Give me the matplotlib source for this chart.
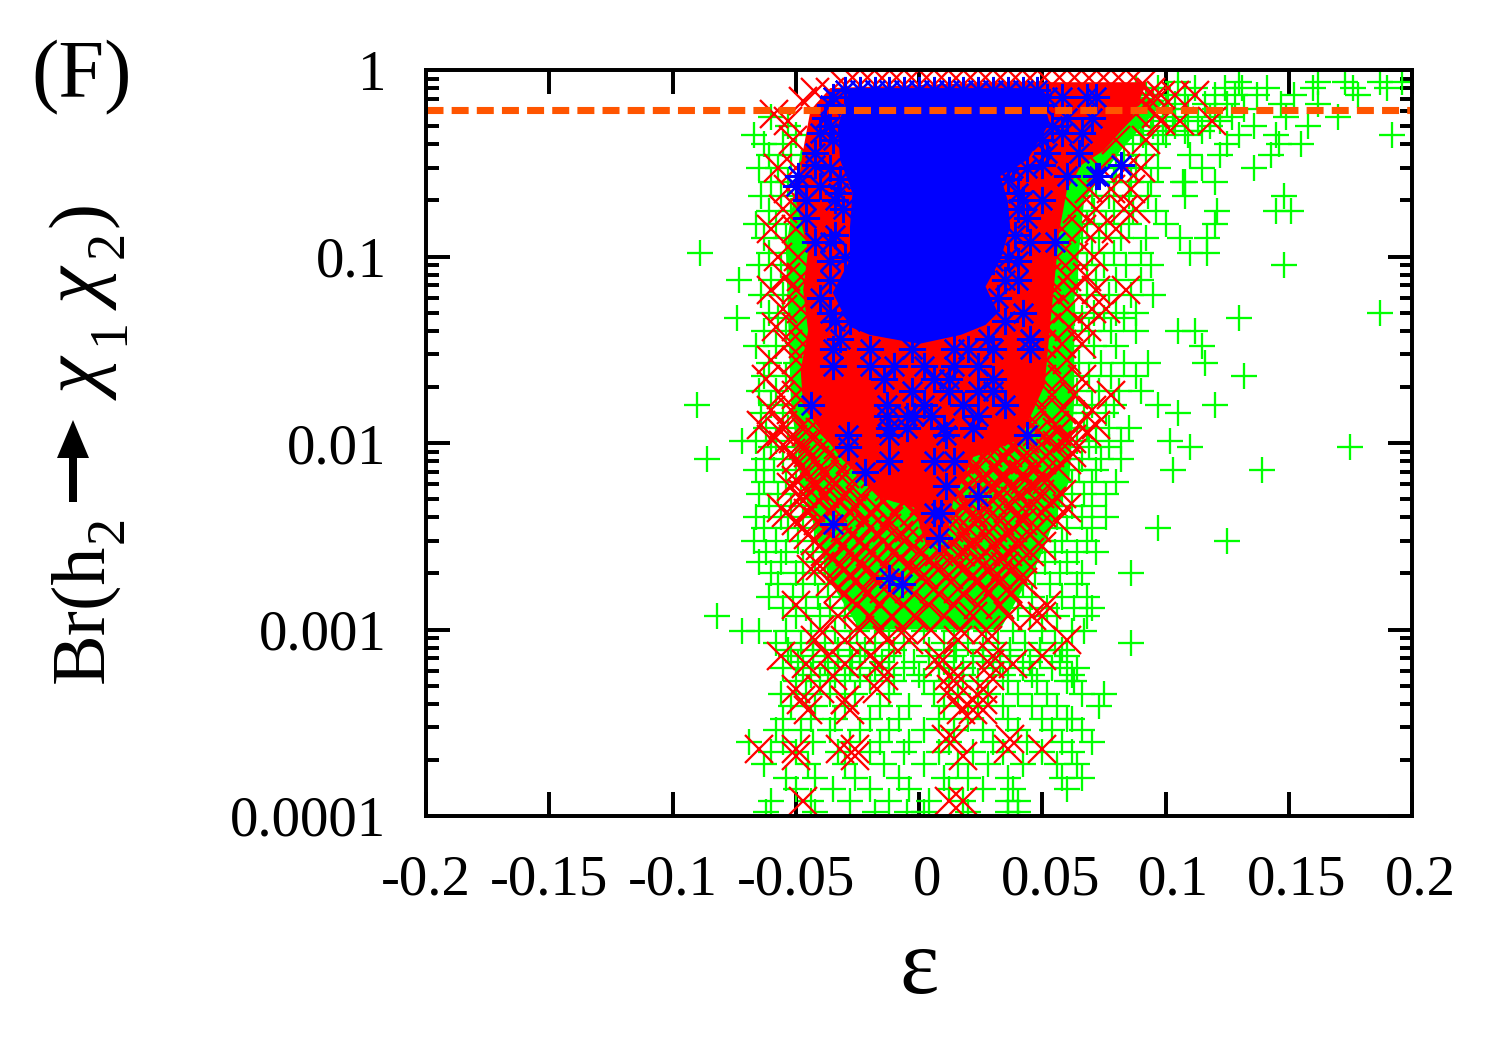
import numpy as np
import matplotlib
matplotlib.use('Agg')
import matplotlib.pyplot as plt
from matplotlib.patches import FancyArrow
from matplotlib.transforms import ScaledTranslation

plt.rcParams['font.family'] = ['Liberation Serif', 'DejaVu Serif']

x_ticks = [-0.2, -0.15, -0.1, -0.05, 0, 0.05, 0.1, 0.15, 0.2]
x_labels = ['-0.2', '-0.15', '-0.1', '-0.05', '0', '0.05', '0.1', '0.15', '0.2']
y_ticks = [1, 0.1, 0.01, 0.001, 0.0001]
y_labels = ['1', '0.1', '0.01', '0.001', '0.0001']
br_limit = 0.61

# The centre of the cloud is overplotted so heavily that single markers can't be
# read, so those parts are an outline; points are listed
# where they can be told apart.
green_core_eps = [-.048, -.054, -.052, -.048, -.036, -.024, .033, .049, .061, .063, .063, .067, .082, .1, .073]
green_core_br = [.372, .108, .0171, .0063, .0018, .001, .001, .0024, .0063, .0171, .058, .201, .372, .69, .78]
red_core_eps = [.092, .086, .075, .066, .06, .057, .055, .053, .051, .041, .022, .014, .011, .003,
                -.002, -.016, -.032, -.047, -.048, -.045, -.047, -.045, -.05, -.047, -.044, -.036, .033, .092]
red_core_br = [.83, .54, .37, .31, .227, .139, .075, .04, .0205, .0104, .0084, .005, .003, .0028,
               .0045, .0051, .0084, .0156, .0247, .04, .066, .108, .201, .372, .61, .8, .86, .86]
blue_core_eps = [-.028, .049, .053, .044, .033, .036, .037, .033, .027, .032, .027, .017, 0, -.02,
                 -.028, -.035, -.028, -.028, -.027, -.032, -.033, -.029]
blue_core_br = [.8, .8, .52, .33, .27, .2, .144, .096, .069, .05, .043, .038, .034, .038,
                .042, .064, .096, .144, .219, .329, .495, .734]

# green + markers, one row per Br level
green_rows = [
    (.86, [.105, .13, .162, .173, .187, .196]),
    (.80, [.088, .097, .112, .124, .131, .141, .16, .176, .19]),
    (.73, [.083, .092, .101, .108, .12, .128, .137, .152, .178]),
    (.66, [.086, .095, .104, .116, .125, .147, .162]),
    (.62, [.1, .109, .12, .132]),
    (.56, [-.06, .082, .09, .099, .108, .118, .127, .149, .17]),
    (.53, [.094, .103, .113, .122]),
    (.50, [-.053, .078, .086, .095, .104, .118, .136, .158]),
    (.47, [.09, .099, .108, .115]),
    (.45, [-.067, -.05, .074, .082, .091, .1, .109, .13, .145, .192]),
    (.40, [-.063, -.055, .07, .079, .087, .097, .125, .146, .155]),
    (.35, [-.061, -.052, .066, .074, .083, .092, .11, .122, .143]),
    (.30, [-.065, -.057, .063, .071, .08, .088, .097, .115, .136]),
    (.25, [-.06, -.053, .072, .079, .086, .094, .107, .12, .108]),
    (.21, [-.064, -.056, .07, .077, .085, .093, .108, .148]),
    (.175, [-.061, -.052, .064, .071, .079, .087, .096, .121, .145, .151]),
    (.15, [-.066, -.058, .06, .068, .076, .085, .1, .12]),
    (.125, [-.063, -.054, .058, .066, .073, .082, .092, .106, .117]),
    (.105, [-.089, -.061, -.052, .055, .063, .07, .079, .09, .11, .117]),
    (.09, [-.065, -.056, .06, .068, .075, .084, .094, .148]),
    (.075, [-.073, -.06, -.05, .056, .064, .072, .08, .09]),
    (.062, [-.064, -.055, .052, .06, .068, .077, .086, .095]),
    (.05, [-.061, -.052, .054, .063, .071, .08, .088, .187]),
    (.047, [-.074, -.057, .058, .066, .075, .083, .13]),
    (.04, [-.063, -.054, .052, .06, .069, .078, .088, .105, .112]),
    (.033, [-.066, -.058, .054, .062, .071, .08, .115]),
    (.027, [-.061, -.05, .057, .065, .074, .083, .093, .116]),
    (.023, [-.063, -.054, .052, .06, .069, .078, .088, .132]),
    (.019, [-.065, -.058, .056, .064, .073, .081, .09]),
    (.016, [-.09, -.06, -.051, .053, .061, .07, .079, .097, .12]),
    (.0145, [-.064, -.055, .059, .067, .076, .105]),
    (.012, [-.062, -.053, .052, .06, .068, .077, .085]),
    (.0102, [-.072, -.066, -.058, .056, .064, .072, .082, .102]),
    (.0095, [-.06, -.05, .052, .06, .069, .077, .11, .175]),
    (.0082, [-.086, -.063, -.055, -.04, .058, .066, .074, .082]),
    (.0072, [-.066, -.059, -.05, -.036, .05, .057, .065, .072, .103, .139]),
    (.0062, [-.063, -.054, -.044, .046, .053, .062, .07, .08]),
    (.0053, [-.065, -.057, -.048, -.038, -.028, .04, .05, .058, .067, .076]),
    (.0046, [-.061, -.052, -.042, -.034, .034, .044, .053, .062, .07]),
    (.004, [-.066, -.056, -.047, -.037, .028, .038, .047, .056, .066, .076]),
    (.0035, [-.063, -.053, -.042, -.03, .024, .034, .044, .052, .06, .07, .097]),
    (.003, [-.067, -.058, -.049, -.037, .03, .04, .05, .058, .068, .125]),
    (.0026, [-.062, -.054, -.043, -.034, .018, .028, .037, .046, .055, .064, .072]),
    (.0023, [-.065, -.056, -.047, -.038, -.028, .022, .032, .042, .051, .06]),
    (.002, [-.06, -.05, -.042, -.032, -.02, .014, .025, .036, .047, .057, .066, .086]),
    (.00175, [-.057, -.047, -.037, -.028, .02, .031, .042, .053, .064]),
    (.0015, [-.061, -.051, -.041, -.03, -.022, -.012, .012, .024, .035, .046, .058, .068]),
    (.0013, [-.055, -.046, -.036, -.026, -.014, .005, .016, .028, .04, .052, .063, .07]),
    (.00118, [-.082, -.05, -.04, -.03, -.02, -.005, .008, .022, .033, .045, .056, .068]),
    (.00098, [-.072, -.065, -.054, -.044, -.034, -.025, -.012, .002, .014, .027, .038, .05, .062, .067]),
    (.00085, [-.058, -.048, -.038, -.028, -.018, -.006, .01, .02, .032, .043, .055, .086]),
    (.00078, [-.053, -.043, -.033, -.022, -.01, .004, .015, .026, .037, .049, .058]),
    (.00072, [-.052, -.043, -.033, -.024, -.012, .004, .014, .026, .037, .049, .06]),
    (.00067, [-.049, -.038, -.027, -.015, -.002, .01, .022, .033, .045, .057]),
    (.00062, [-.055, -.047, -.037, -.028, -.018, -.006, .008, .018, .03, .042, .054, .064]),
    (.00057, [-.044, -.034, -.024, -.012, 0, .018, .034, .046, .062]),
    (.00053, [-.05, -.04, -.03, -.02, -.01, .002, .012, .024, .036, .048, .06, .063]),
    (.00045, [-.056, -.046, -.036, -.026, -.012, .006, .016, .028, .04, .052, .066, .075]),
    (.00039, [-.052, -.042, -.03, -.016, -.004, .01, .024, .034, .046, .056, .073]),
    (.00033, [-.055, -.044, -.034, -.02, -.008, .008, .02, .036, .05, .062, .06]),
    (.00029, [-.058, -.048, -.036, -.024, -.012, .002, .014, .026, .04, .054, .066]),
    (.00025, [-.069, -.055, -.043, -.028, -.016, -.004, .012, .03, .044, .058, .07]),
    (.00022, [-.06, -.05, -.033, -.02, -.006, .008, .022, .034, .05, .062]),
    (.00019, [-.063, -.045, -.03, -.014, .002, .016, .028, .042, .056, .064]),
    (.00016, [-.054, -.042, -.026, -.008, .01, .02, .036, .058, .066]),
    (.00014, [-.05, -.035, -.02, -.004, .012, .026, .038, .06]),
    (.00012, [-.06, -.044, -.028, -.012, .004, .018, .036, .04]),
    (.000105, [-.062, -.042, -.018, -.005, .002, .02, .036, .04]),
]

# red x markers around the solid part
red_rows = [
    (.83, [-.03, -.024, -.018, -.012, -.006, 0, .006, .012, .018, .024, .03, .036, .042, .048, .054, .06,
           .066, .072, .078, .084, .09]),
    (.76, [-.042, -.036, .094]),
    (.734, [.104, .112, .098]),
    (.68, [-.047, .094, .09]),
    (.58, [-.059, .088, .096]),
    (.53, [-.053, .106, .119, .098]),
    (.42, [-.051, .08, .092]),
    (.3, [-.057, -.05, .074, .084, .09]),
    (.23, [-.053, .069, .078, .086]),
    (.18, [-.055, -.049, .064, .072, .083, .088]),
    (.14, [-.06, -.05, .058, .066, .073, .08]),
    (.1, [-.057, -.049, .056, .063, .071]),
    (.078, [-.054, -.048, .052, .06, .068]),
    (.066, [-.06, -.05, .055, .062, .072, .084]),
    (.052, [-.055, -.048, .053, .06, .07, .076]),
    (.042, [-.058, -.05, .052, .061, .068]),
    (.034, [-.053, -.047, .05, .058, .066]),
    (.028, [-.06, -.05, .052, .06]),
    (.022, [-.062, -.052, .05, .058, .066]),
    (.018, [-.056, -.05, .046, .054, .063, .078]),
    (.015, [-.06, -.052, .042, .05, .058, .07]),
    (.0125, [-.064, -.055, -.047, .038, .046, .055, .065, .072]),
    (.0115, [-.056, -.046, -.04, .04, .048, .056, .068]),
    (.0105, [-.06, -.051, -.043, .035, .043, .052, .06, .062]),
    (.0097, [-.055, -.047, -.039, -.033, .03, .038, .047, .056]),
    (.0088, [-.052, -.045, .028, .036, .044, .053, .062]),
    (.0081, [-.05, -.042, -.034, -.028, .02, .027, .034, .043, .05, .06]),
    (.0074, [-.048, -.04, .022, .03, .038, .047, .056]),
    (.0068, [-.046, -.038, -.03, -.024, -.018, .014, .02, .027, .034, .042, .05]),
    (.0063, [-.05, -.043, -.035, .018, .026, .034, .043, .052, .05]),
    (.0058, [-.052, -.042, -.035, -.027, -.02, -.012, -.005, .012, .02, .03, .038, .046]),
    (.0053, [-.047, -.038, -.03, .016, .024, .032, .04, .049, .058]),
    (.0049, [-.047, -.04, -.032, -.024, -.014, -.006, .002, .01, .02, .03, .039, .048, .054]),
    (.0045, [-.056, -.044, -.035, -.026, -.017, .018, .026, .036, .045, .06]),
    (.0042, [-.054, -.045, -.036, -.028, -.02, -.01, -.002, .006, .014, .022, .03, .04, .05]),
    (.0038, [-.05, -.041, -.032, -.022, -.012, .015, .024, .033, .042, .056]),
    (.0035, [-.047, -.038, -.03, -.02, -.013, -.004, .004, .012, .02, .03, .038, .048]),
    (.0032, [-.045, -.036, -.027, -.017, -.008, .018, .027, .036, .045]),
    (.003, [-.042, -.033, -.024, -.014, -.006, .006, .014, .022, .032, .04]),
    (.0028, [-.04, -.031, -.022, -.012, -.002, .012, .021, .03, .04, .05]),
    (.0026, [-.038, -.028, -.02, -.01, 0, .008, .017, .027, .036, .045]),
    (.0024, [-.035, -.026, -.017, -.008, .004, .014, .024, .034, .042]),
    (.0022, [-.04, -.032, -.023, -.014, -.004, .006, .016, .026, .035]),
    (.0021, [-.044, -.03, -.021, -.012, -.002, .008, .018, .028, .038]),
    (.00195, [-.028, -.018, -.008, .002, .012, .022, .032, .042]),
    (.0018, [-.036, -.026, -.017, -.007, .003, .013, .024, .032, .042]),
    (.00165, [-.033, -.022, -.014, -.004, .006, .016, .027, .036]),
    (.00155, [-.03, -.021, -.012, -.002, .008, .018, .028, .037]),
    (.00135, [-.05, -.025, -.016, -.006, .004, .014, .024, .033, .052]),
    (.00118, [-.033, -.02, -.011, -.002, .01, .022, .036, .05, .046]),
    (.001, [-.04, -.024, -.016, -.006, .005, .017, .027]),
    (.00088, [-.042, -.03, -.013, -.004, .016, .028, .06]),
    (.00072, [-.056, -.037, -.02, .008, .03, .05]),
    (.00065, [-.046, -.03, -.016, .008, .029, .038]),
    (.00056, [-.035, -.014, .012, .016, .029]),
    (.00048, [-.05, -.04, -.017, .013, .026]),
    (.00042, [-.048, -.03, -.03, .014, .022, .026]),
    (.00037, [-.045, -.028, .017, .022, .026]),
    (.00026, [.011, .014, .037]),
    (.00023, [-.065, -.05, -.032, -.026, .05, .036]),
    (.00021, [-.05, -.026, .018]),
    (.00012, [-.047, .012, .018]),
]

blue_rows = [
    (.78, [-.03, -.024, -.018, -.012, -.006, 0, .006, .012, .018, .024, .03, .036, .042, .048]),
    (.72, [-.035, .052, .058, .068, .072]),
    (.65, [-.036, .05]),
    (.55, [-.038, .06, .07]),
    (.5, [-.036, .054]),
    (.46, [-.04, -.03, .058, .066]),
    (.42, [-.035, .05]),
    (.36, [-.042, .052, .065]),
    (.31, [-.042, .05, .082]),
    (.3, [-.036, .038, .044]),
    (.27, [-.049, .06, .072, .073]),
    (.26, [-.032, .036]),
    (.24, [-.05, -.04]),
    (.22, [-.033, .04, .03]),
    (.2, [-.046, -.034, .042, .05]),
    (.18, [-.031, .04]),
    (.16, [-.046, .044]),
    (.13, [-.034, .039]),
    (.12, [-.042, -.036, .055, .045]),
    (.1, [-.03, .036]),
    (.095, [-.036, .04, .03]),
    (.075, [-.036, .035, .04]),
    (.06, [-.04, .032]),
    (.05, [-.036, .042]),
    (.045, [-.034, .035, -.028]),
    (.036, [-.032, .028, .045, .045]),
    (.032, [-.035, -.02, -.003, .014, .02, .03, .045]),
    (.026, [-.035, -.02, -.01, .002, .014, .024]),
    (.022, [-.014, .006, .012, .03]),
    (.019, [-.003, .012, .03, .024]),
    (.016, [-.044, -.013, .002, .018, .035]),
    (.014, [-.013, -.005, -.002, .005, .024]),
    (.012, [-.012, -.005, .01, .022]),
    (.011, [-.029, -.012, .011, .044]),
    (.0095, [-.029]),
    (.008, [-.012, .006, .014]),
    (.007, [-.022]),
    (.0059, [.011]),
    (.0052, [.024]),
    (.0042, [.006, .009]),
    (.0037, [-.035]),
    (.0031, [.008]),
    (.0019, [-.012]),
    (.00175, [-.007]),
]


def flatten(rows):
    eps = [e for br, row in rows for e in row]
    brs = [br for br, row in rows for e in row]
    return eps, brs


green_eps, green_br = flatten(green_rows)
red_eps, red_br = flatten(red_rows)
blue_eps, blue_br = flatten(blue_rows)

fig = plt.figure(figsize=(10, 7), dpi=150)
ax = fig.add_axes([426 / 1500, 1 - 816 / 1050, 986 / 1500, 746 / 1050])
ax.set_yscale('log')

ax.fill(green_core_eps, green_core_br, color='#00ff00', lw=0, zorder=1.9)
ax.plot(green_eps, green_br, ls='none', marker='+', ms=12.5, mew=1.1, color='#00ff00')
ax.fill(red_core_eps, red_core_br, color='#ff0000', lw=0, zorder=2.1)
ax.plot(red_eps, red_br, ls='none', marker='x', ms=13, mew=1.1, color='#ff0000', zorder=2.2)
ax.fill(blue_core_eps, blue_core_br, color='#0000ff', lw=0, zorder=2.3)
ax.plot(blue_eps, blue_br, ls='none', marker=(8, 2, 0), ms=13, mew=1.1, color='#0000ff', zorder=2.4)
ax.plot([-0.2, 0.2], [br_limit, br_limit], color='#ff5500', lw=3.4, dash_capstyle='butt',
        dashes=(2.4, 1.15), zorder=2.5)

ax.set_xlim(-0.2, 0.2)
ax.set_ylim(0.0001, 1)
ax.set_xticks(x_ticks)
ax.set_xticklabels(x_labels)
ax.set_yticks(y_ticks)
ax.set_yticklabels(y_labels)
ax.yaxis.set_minor_locator(matplotlib.ticker.LogLocator(base=10, subs=range(2, 10), numticks=12))
ax.yaxis.set_minor_formatter(matplotlib.ticker.NullFormatter())
ax.tick_params(which='major', direction='in', length=11.5, width=1.9, top=True, right=True,
               labelsize=27.3, pad=19)
ax.tick_params(axis='x', which='major', pad=18.5)
ax.tick_params(which='minor', direction='in', length=6, width=1.9, top=True, right=True)
for spine in ax.spines.values():
    spine.set_linewidth(1.9)
    spine.set_zorder(3)

# labels without a minus sign sit a little right of their ticks in the original
for label in ax.get_xticklabels():
    if not label.get_text().startswith('-'):
        label.set_transform(label.get_transform() + ScaledTranslation(8 / 150, 0, fig.dpi_scale_trans))

fig.text(919 / 1500, 1 - 970 / 1050, 'ε', fontsize=45, ha='center', va='center')
fig.text(31 / 1500, 1 - 78 / 1050, '(F)', fontsize=39.5, ha='left', va='center')

# y label pieces: text, baseline x, start y (px), size, style
ylabel_parts = [
    ('Br(h', 102, 683, 36.5, 'normal'),
    ('2', 123, 543, 26, 'normal'),
    ('χ', 106, 400, 40, 'italic'),
    ('1', 123, 345, 26, 'normal'),
    ('χ', 106, 310, 40, 'italic'),
    ('2', 123, 258, 26, 'normal'),
    (')', 102, 227, 37.5, 'normal'),
]
for text, px, py, size, style in ylabel_parts:
    fig.text(px / 1500, 1 - py / 1050, text, fontsize=size, style=style, rotation=90,
             rotation_mode='anchor', ha='left', va='baseline')
fig.patches.append(FancyArrow(73 / 1500, 1 - 502 / 1050, 0, 82 / 1050, width=8 / 1500,
                              head_width=32 / 1500, head_length=38 / 1050, length_includes_head=True,
                              color='black', lw=0, transform=fig.transFigure, figure=fig))

fig.savefig('out.png', dpi=150)
